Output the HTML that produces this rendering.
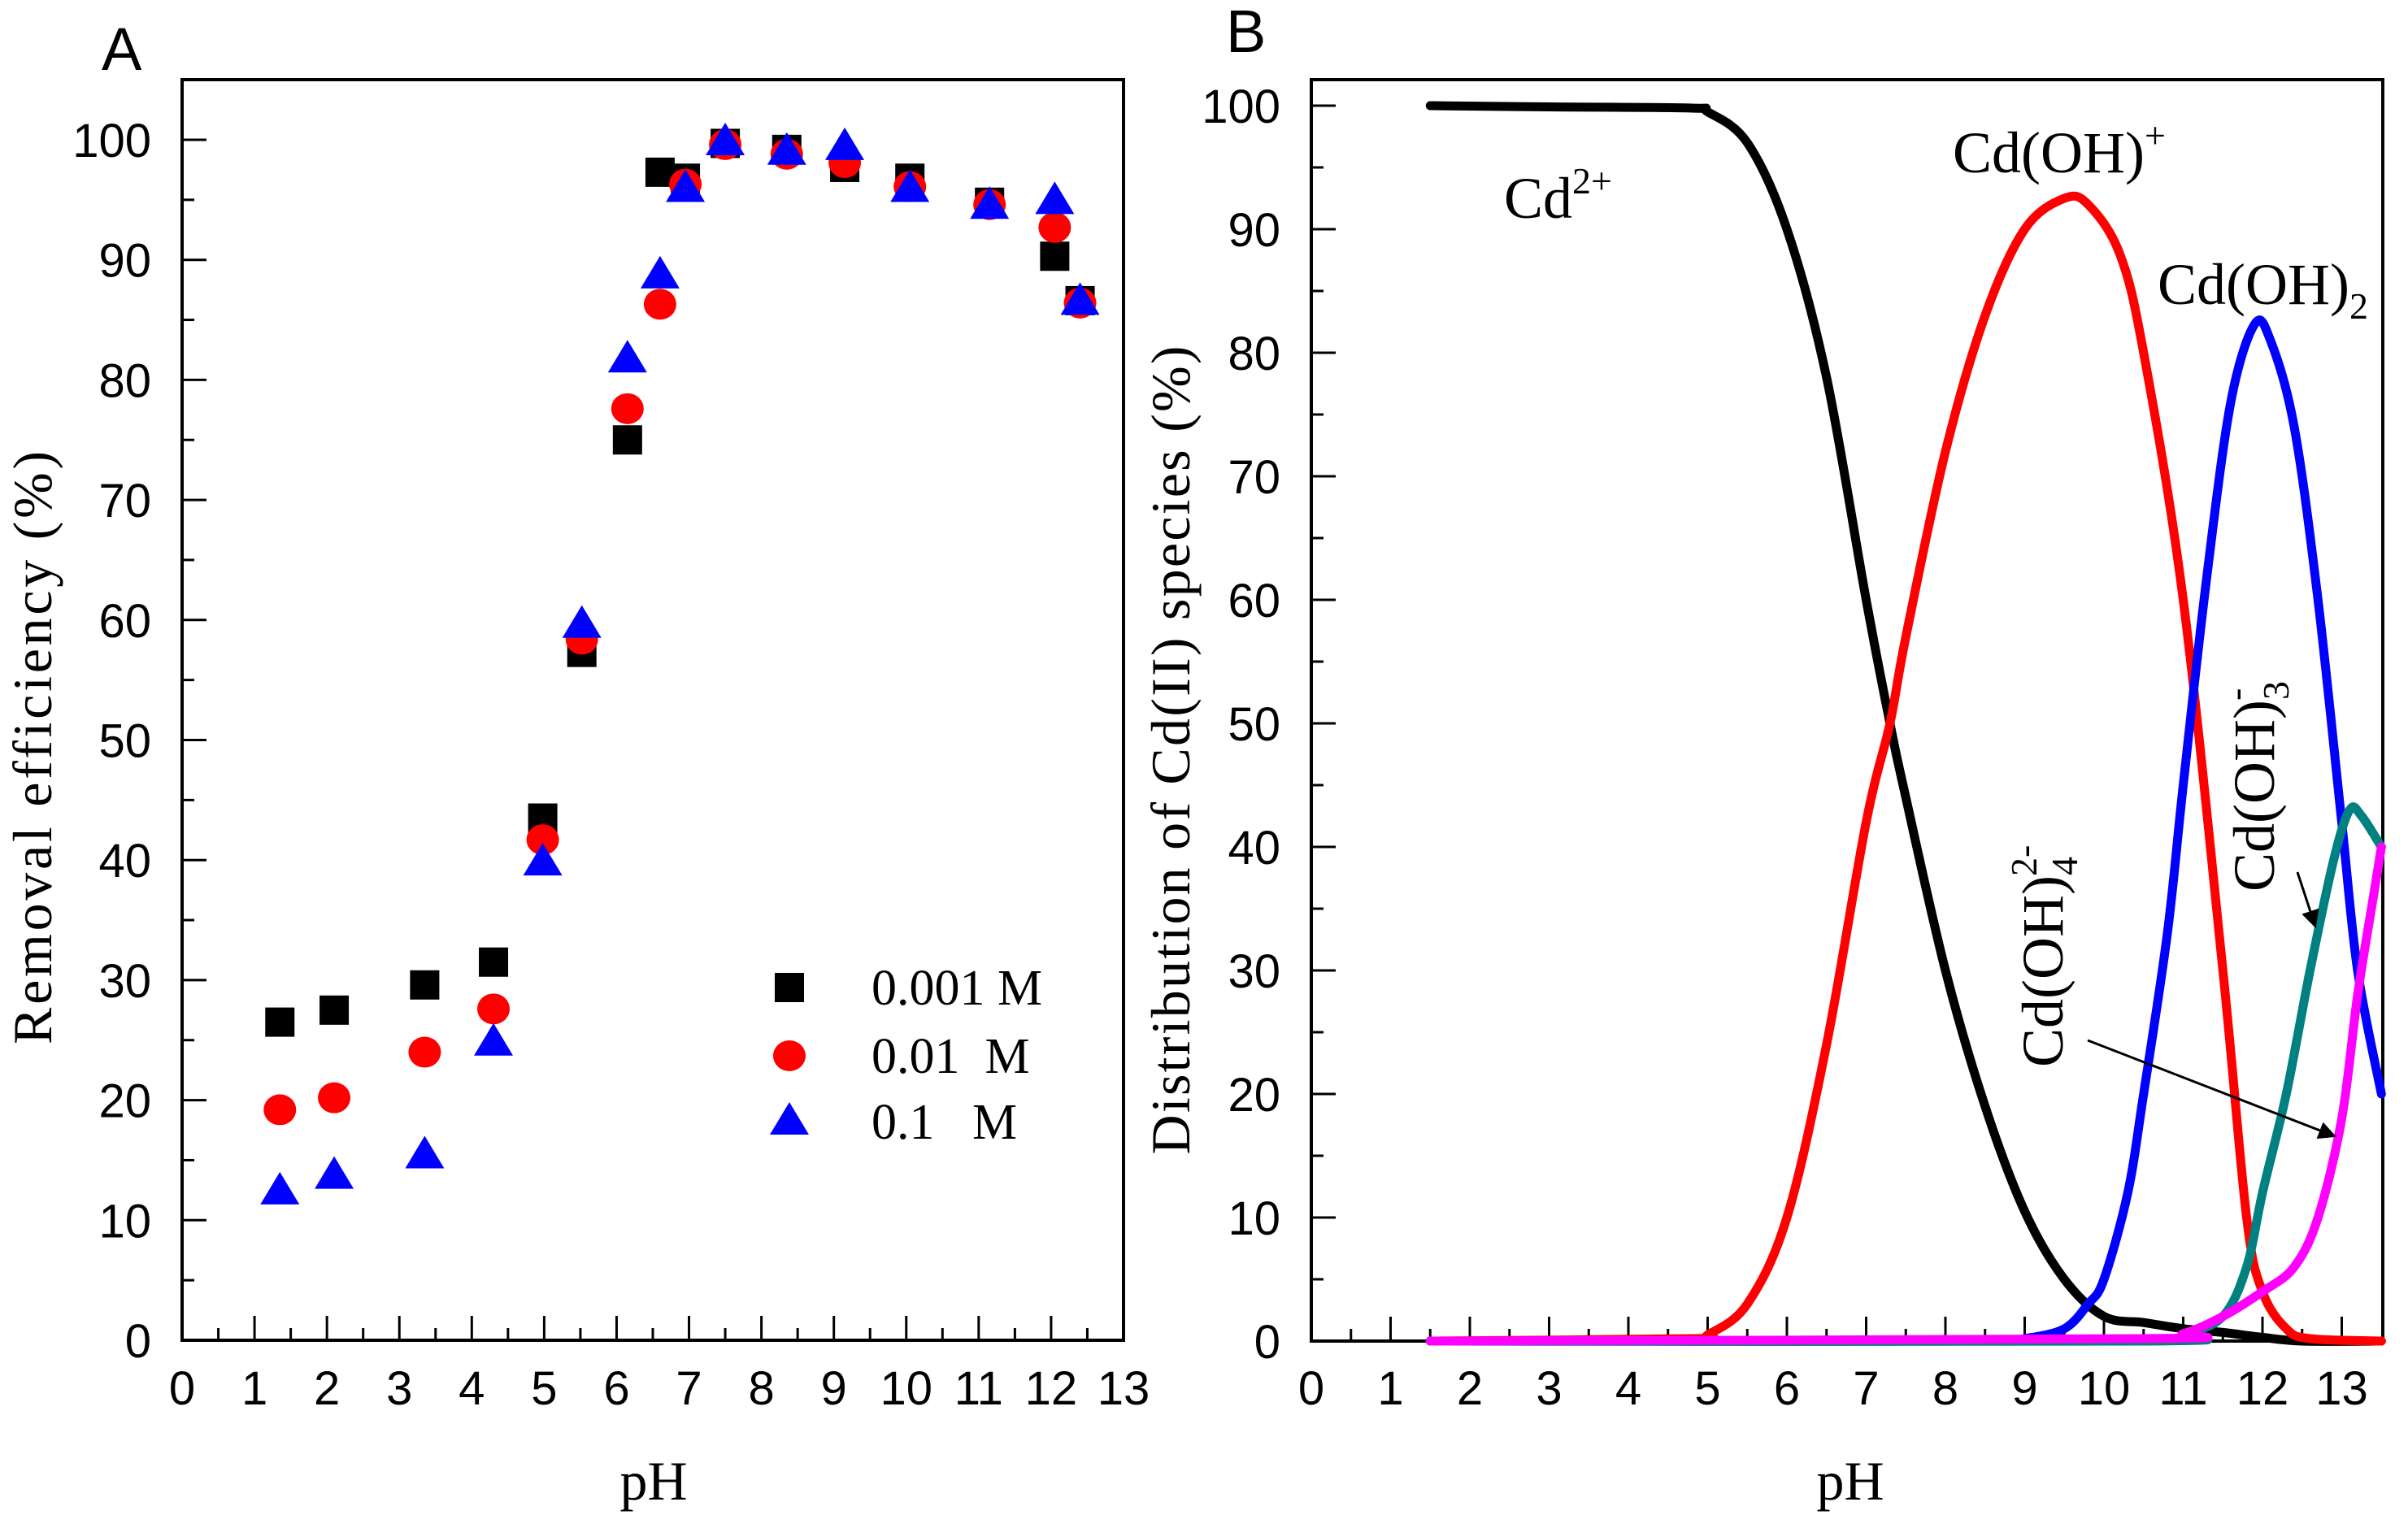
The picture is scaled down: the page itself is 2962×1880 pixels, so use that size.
<!DOCTYPE html>
<html><head><meta charset="utf-8"><style>
html,body{margin:0;padding:0;background:#fff;}
svg{display:block;}
.pre{white-space:pre;}
</style></head><body>
<svg id="fig" width="2962" height="1880" viewBox="0 0 2962 1880" xmlns="http://www.w3.org/2000/svg">
<text x="125" y="86" font-family="Liberation Sans, sans-serif" font-size="74">A</text>
<text x="1508" y="64" font-family="Liberation Sans, sans-serif" font-size="74">B</text>
<g id="A"></g>
<g id="B"></g>
</svg>
<script>
// Panel A data
const phA = [1.35, 2.1, 3.35, 4.3, 4.98, 5.52, 6.15, 6.6, 6.95, 7.5, 8.35, 9.15, 10.05, 11.15, 12.05, 12.4];
const effLow = [26.5, 27.5, 29.6, 31.5, 43.5, 57.3, 75, 97.3, 96.8, 99.7, 99.2, 97.7, 96.8, 94.8, 90.3, 86.6];
const effMid = [19.2, 20.2, 24, 27.6, 41.7, 58.4, 77.6, 86.3, 96.3, 99.6, 98.8, 98.1, 96.1, 94.6, 92.7, 86.4];
const effHigh = [12.4, 13.7, 15.4, 24.8, 39.8, 59.6, 81.7, 88.7, 95.9, 99.8, 99, 99.4, 95.9, 94.5, 94.9, 86.5];
const legendLabels = ["0.001 M", "0.01  M", "0.1   M"];
// Panel B data
const phCd = [1.5, 3, 4.8, 5.0, 5.5, 6.0, 6.5, 7.0, 7.3, 7.5, 8.0, 8.5, 9.0, 9.5, 10.0, 10.5, 11.0, 11.5, 12.0, 12.5, 13.5];
const cd2 = [100, 99.9, 99.8, 99.5, 97, 90, 78, 60, 50, 44, 30, 19, 10.5, 5, 2, 1.5, 1, 0.7, 0.3, 0, 0];
const phOH = [1.5, 4.8, 5.0, 5.5, 6.0, 6.5, 7.0, 7.3, 7.5, 8.0, 8.5, 9.0, 9.5, 9.8, 10.2, 10.5, 11.0, 11.5, 11.8, 12.0, 12.3, 12.6, 13.5];
const cdOH = [0, 0.2, 0.5, 3, 10, 24, 42, 50, 57, 72, 83, 90, 92.5, 92, 88, 80, 60, 30, 10, 4, 1, 0.2, 0];
const phOH2 = [1.5, 8.5, 9.0, 9.5, 9.8, 10.0, 10.3, 10.5, 10.8, 11.0, 11.3, 11.6, 11.9, 12.1, 12.4, 12.7, 13.0, 13.2, 13.5];
const cdOH2 = [0, 0, 0.2, 1, 3, 5, 12, 20, 33, 45, 62, 76, 82.3, 81, 74, 60, 42, 30, 20];
const phOH3 = [1.5, 10.5, 11.0, 11.5, 11.8, 12.0, 12.3, 12.6, 12.9, 13.1, 13.25, 13.5];
const cdOH3 = [0, 0, 0.5, 2, 6, 12, 20, 30, 39, 43, 42.5, 40];
const phOH4 = [1.5, 10.5, 11.0, 11.5, 12.0, 12.4, 12.7, 13.0, 13.2, 13.4, 13.5];
const cdOH4 = [0, 0.2, 0.6, 2, 4, 6, 10, 18, 28, 36, 40];
const yTicks = [0, 10, 20, 30, 40, 50, 60, 70, 80, 90, 100];
const xTicks = [0, 1, 2, 3, 4, 5, 6, 7, 8, 9, 10, 11, 12, 13];

const NS = "http://www.w3.org/2000/svg";
function mk(parent, tag, attrs, text) {
  const e = document.createElementNS(NS, tag);
  for (const k in attrs) e.setAttribute(k, attrs[k]);
  if (text !== undefined) e.textContent = text;
  parent.appendChild(e);
  return e;
}
const SANS = "Liberation Sans, sans-serif", SERIF = "Liberation Serif, serif";

function axes(g, L, R, T, B, sx, sy, xmax) {
  for (const v of yTicks) {
    const y = sy(v);
    const t = mk(g, "line", {x1: L, x2: L + 30, y1: y, y2: y, stroke: "#000", "stroke-width": 3});
    
    
    const lb = mk(g, "text", {x: L - 38, y: y + 21, "text-anchor": "end", "font-family": SANS, "font-size": 58}, String(v));
    
    
    if (v < 100) {
      const m = mk(g, "line", {x1: L, x2: L + 15, y1: sy(v + 5), y2: sy(v + 5), stroke: "#000", "stroke-width": 3});
      
      
    }
  }
  for (const v of xTicks) {
    const x = sx(v);
    if (v > 0) {
      const t = mk(g, "line", {x1: x, x2: x, y1: B, y2: B - 30, stroke: "#000", "stroke-width": 3});
      
      
    }
    const lb = mk(g, "text", {x: x, y: 1728, "text-anchor": "middle", "font-family": SANS, "font-size": 58}, String(v));
    
    
    if (v + 0.5 < xmax) {
      const m = mk(g, "line", {x1: sx(v + 0.5), x2: sx(v + 0.5), y1: B, y2: B - 15, stroke: "#000", "stroke-width": 3});
      
      
    }
  }
  const f = mk(g, "rect", {x: L, y: T, width: R - L, height: B - T, fill: "none", stroke: "#000", "stroke-width": 4});
  
  
}

// ---- Panel A
(function () {
  const g = document.getElementById("A");
  const L = 224, R = 1382, T = 98, B = 1649;
  const sx = v => L + v * (R - L) / 13;
  const sy = v => 1649 - v * 14.77;
  axes(g, L, R, T, B, sx, sy, 13);
  function square(x, y) {
    const e = mk(g, "rect", {x: x - 18, y: y - 18, width: 36, height: 36, fill: "#000"});
    
    
  }
  function circle(x, y) {
    const e = mk(g, "ellipse", {cx: x, cy: y, rx: 20, ry: 19, fill: "#ff0000"});
    
    
  }
  function tri(x, y) {
    const e = mk(g, "polygon", {points: `${x},${y - 24} ${x + 24},${y + 16} ${x - 24},${y + 16}`, fill: "#0000ff"});
    
    
  }
  phA.forEach((p, i) => square(sx(p), sy(effLow[i])));
  phA.forEach((p, i) => circle(sx(p), sy(effMid[i])));
  phA.forEach((p, i) => tri(sx(p), sy(effHigh[i])));
  square(971, 1215); circle(971, 1299); tri(971, 1380);
  const ly = [1215, 1299, 1380];
  legendLabels.forEach((s, i) => {
    const t = mk(g, "text", {x: 1072, y: ly[i] + 21, "font-family": SERIF, "font-size": 62, "class": "pre"}, s);
    
    
  });
  const yt = mk(g, "text", {x: 0, y: 0, transform: "translate(63,920) rotate(-90)", "text-anchor": "middle", "font-family": SERIF, "font-size": 68, textLength: 730}, "Removal efficiency (%)");
  
  
  const xt = mk(g, "text", {x: 804, y: 1845, "text-anchor": "middle", "font-family": SERIF, "font-size": 68}, "pH");
  
  
})();

// ---- Panel B
(function () {
  const g = document.getElementById("B");
  const L = 1613, R = 2931, T = 98, B = 1650;
  const sx = v => L + v * 97.5;
  const sy = v => 1650 - v * 15.2;
  axes(g, L, R, T, B, sx, sy, 13.5);
  const defs = mk(g, "defs", {});
  const mkr = mk(defs, "marker", {id: "arr", viewBox: "0 0 10 10", refX: 9, refY: 5, markerWidth: 34, markerHeight: 22, orient: "auto", markerUnits: "userSpaceOnUse"});
  mk(mkr, "path", {d: "M0,0 L10,5 L0,10 z", fill: "#000"});
  function curve(xs, ys, color, name) {
    const P = xs.map((x, i) => [sx(x), sy(ys[i])]);
    let d = "M" + P[0][0].toFixed(1) + "," + P[0][1].toFixed(1);
    for (let i = 0; i < P.length - 1; i++) {
      const p0 = P[Math.max(0, i - 1)], p1 = P[i], p2 = P[i + 1], p3 = P[Math.min(P.length - 1, i + 2)];
      const c1 = [p1[0] + (p2[0] - p0[0]) / 6, p1[1] + (p2[1] - p0[1]) / 6];
      const c2 = [p2[0] - (p3[0] - p1[0]) / 6, p2[1] - (p3[1] - p1[1]) / 6];
      d += ` C${c1[0].toFixed(1)},${c1[1].toFixed(1)} ${c2[0].toFixed(1)},${c2[1].toFixed(1)} ${p2[0].toFixed(1)},${p2[1].toFixed(1)}`;
    }
    const p = mk(g, "path", {d: d, fill: "none", stroke: color, "stroke-width": 11, "stroke-linejoin": "round", "stroke-linecap": "round"});
    
    
  }
  curve(phCd, cd2, "#000000", "curve-cd2plus");
  curve(phOH, cdOH, "#ff0000", "curve-cd-oh");
  curve(phOH2, cdOH2, "#0000ff", "curve-cd-oh2");
  curve(phOH3, cdOH3, "#008080", "curve-cd-oh3");
  curve(phOH4, cdOH4, "#ff00ff", "curve-cd-oh4");

  const lab = (html, x, y, rot, name) => {
    const t = mk(g, "text", {x: x, y: y, "font-family": SERIF, "font-size": 72});
    if (rot) t.setAttribute("transform", rot);
    t.innerHTML = html;
    
    
  };
  lab('Cd<tspan font-size="46" dy="-30">2+</tspan>', 1850, 268, null, "label-cd2plus");
  lab('Cd(OH)<tspan font-size="46" dy="-30">+</tspan>', 2402, 212, null, "label-cd-oh");
  lab('Cd(OH)<tspan font-size="46" dy="18">2</tspan>', 2654, 374, null, "label-cd-oh2");
  lab('Cd(OH)<tspan font-size="46" dy="18">4</tspan><tspan font-size="46" dy="-50" dx="-24">2-</tspan>', 0, 0, "translate(2537,1313) rotate(-90)", "label-cd-oh4");
  lab('Cd(OH)<tspan font-size="46" dy="18">3</tspan><tspan font-size="46" dy="-50" dx="-24">-</tspan>', 0, 0, "translate(2797,1097) rotate(-90)", "label-cd-oh3");
  const a1 = mk(g, "line", {x1: 2568, y1: 1280, x2: 2872, y2: 1398, stroke: "#000", "stroke-width": 3, "marker-end": "url(#arr)"});
  
  
  const a2 = mk(g, "line", {x1: 2826, y1: 1073, x2: 2848, y2: 1140, stroke: "#000", "stroke-width": 3, "marker-end": "url(#arr)"});
  
  

  const yt = mk(g, "text", {x: 0, y: 0, transform: "translate(1463,923) rotate(-90)", "text-anchor": "middle", "font-family": SERIF, "font-size": 68, textLength: 995}, "Distribution of Cd(II) species (%)");
  
  
  const xt = mk(g, "text", {x: 2276, y: 1845, "text-anchor": "middle", "font-family": SERIF, "font-size": 68}, "pH");
  
  
})();
</script>
</body></html>
